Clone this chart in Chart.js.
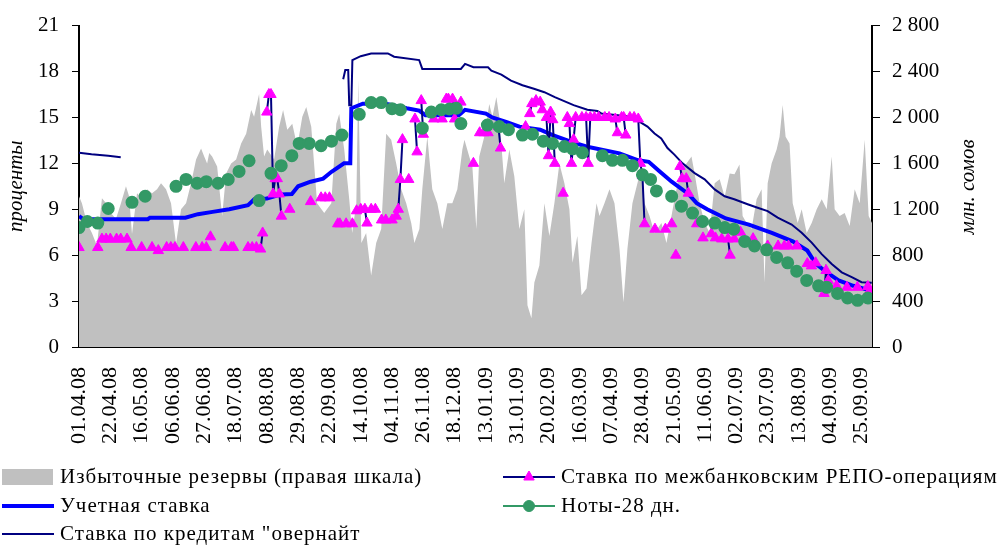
<!DOCTYPE html>
<html>
<head>
<meta charset="utf-8">
<script src="https://cdn.jsdelivr.net/npm/chart.js@4/dist/chart.umd.min.js"></script>
<style>
  html, body { margin: 0; padding: 0; background: #fff; }
  #wrap { width: 1000px; height: 547px; }
</style>
</head>
<body>
<div id="wrap"><canvas id="chart" width="1000" height="547"></canvas></div>
<script>
// x = business day number counted from 01.04.08, labels every 15 days
var tickLabels = ['01.04.08', '22.04.08', '16.05.08', '06.06.08', '27.06.08', '18.07.08', '08.08.08',
  '29.08.08', '22.09.08', '14.10.08', '04.11.08', '26.11.08', '18.12.08', '13.01.09', '31.01.09',
  '20.02.09', '16.03.09', '07.04.09', '28.04.09', '21.05.09', '11.06.09', '02.07.09', '23.07.09',
  '13.08.09', '04.09.09', '25.09.09'];

// excess reserves, mln som (right scale)
var reserves = [
  [0, 1314], [1.4, 1253], [3.8, 1080], [6.2, 994], [8.6, 882], [11, 1296], [13, 1253], [15.3, 1167],
  [17.7, 1115], [20.1, 1253], [22.5, 1400], [24, 1314], [25.4, 985], [27.8, 1340], [30.2, 1296],
  [32.6, 1374], [35, 1340], [37.4, 1374], [39.3, 1426], [41.7, 1374], [44.1, 1253], [46.5, 900],
  [48.9, 1201], [51.3, 1253], [53.7, 1426], [56.1, 1633], [58.5, 1729], [60, 1660], [61.4, 1599],
  [62.4, 1690], [63.8, 1660], [66.2, 1573], [68.6, 1141], [70.5, 1512], [72.9, 1599], [75.3, 1633],
  [77.7, 1772], [80.1, 1858], [82.5, 2065], [83.9, 2005], [86.3, 2204], [87.3, 1919], [88.7, 1660],
  [90.2, 1720], [93.5, 1633], [95.9, 1919], [97.8, 2065], [99.8, 1893], [102.2, 1945], [104.6, 1746],
  [107, 2005], [108.9, 2091], [111.3, 1919], [114.1, 1253], [117.5, 1167], [120.9, 1253],
  [123.3, 1945], [124.7, 2030], [127.1, 1720], [129.5, 1288], [130.9, 994], [132.9, 1253],
  [133.8, 2325], [135.3, 907], [137.6, 994], [140, 622], [142.4, 907], [144.8, 1028], [147.2, 1858],
  [149.6, 1806], [152, 1599], [154.4, 1374], [156.8, 1253], [159.2, 1080], [160.7, 907], [163.1, 1028],
  [164.5, 1374], [166.9, 1832], [169.3, 1374], [171.7, 1253], [174.1, 1028], [176.5, 1253],
  [178.9, 1253], [181.3, 1374], [183.7, 1720], [184.7, 1806], [187, 1660], [188.5, 1573],
  [190.4, 1028], [191.8, 1660], [194.2, 1832], [196.6, 2117], [198.1, 2005], [200, 2178],
  [201.4, 2005], [203.8, 1426], [206.2, 1720], [208.6, 1487], [211, 1028], [213.4, 1201],
  [214.9, 363], [216.8, 251], [218.2, 562], [220.6, 709], [223, 1253], [225.4, 968], [227.8, 1253],
  [230.2, 1599], [232.6, 1426], [235, 1201], [236.5, 735], [238.8, 968], [240.8, 450], [243.2, 510],
  [245.6, 907], [248, 1253], [249.4, 1141], [251.8, 1253], [254.2, 1374], [256.6, 1253], [259, 856],
  [260.9, 389], [262.8, 856], [265.2, 1253], [267.6, 1426], [269.5, 1573], [271, 1253], [273.4, 1141],
  [275.8, 994], [279.1, 1080], [281.5, 907], [283.9, 1141], [286.3, 1374], [288.7, 1547],
  [291.1, 1599], [293.5, 1660], [295, 1512], [297.4, 1253], [299.8, 1080], [302.2, 994],
  [304.6, 1426], [307, 1461], [309.4, 1310], [311.8, 1512], [314.1, 1504], [316.5, 1590], [318, 1141],
  [319.9, 1080], [322.3, 1028], [324.7, 1288], [327.1, 1374], [328.5, 562], [330, 1426], [331.9, 1599],
  [334.3, 1720], [335.7, 1832], [337.2, 2109], [338.6, 1832], [340.5, 1772], [342, 1253],
  [344.4, 1080], [346.3, 1201], [348.7, 994], [351.1, 1080], [353.5, 1201], [355.9, 1288],
  [358.3, 1201], [360.7, 1660], [362.1, 1201], [364.5, 1141], [366.9, 1167], [369.3, 1054],
  [371.7, 1374], [374.1, 1253], [376.5, 1806], [378.4, 1141], [380, 1080]
];

// discount rate, %
var discountRate = [
  [0, 8.55], [2, 8.35], [33, 8.35], [34, 8.45], [51, 8.45], [57, 8.68], [64, 8.83], [72, 9.0],
  [81, 9.27], [84, 9.65], [90, 9.7], [97, 9.97], [102, 10.0], [105, 10.5], [111, 10.8], [117, 11.0],
  [121, 11.45], [127, 12.0], [130, 12.0], [130.5, 15.6], [136, 15.9], [147, 15.9], [157, 15.6],
  [163, 15.45], [166, 15.15], [182, 15.15], [185, 15.5], [195, 15.25], [198, 15.0], [205, 14.7],
  [211, 14.4], [221, 14.2], [227, 13.85], [236, 13.4], [243, 13.1], [259, 12.65], [268, 12.2],
  [273, 12.1], [278, 11.5], [284, 10.8], [292, 10.0], [296, 9.4], [301, 9.0], [310, 8.4], [321, 8.0],
  [332, 7.45], [342, 6.9], [349, 6.3], [353, 5.45], [358, 4.9], [364, 4.35], [371, 4.0], [379, 3.7]
];

// overnight credit rate, %, no quotes between the two pieces
var overnightRate = [
  [0, 12.7], [6, 12.6], [14, 12.5], [20, 12.4], [70, null],
  [126.6, 17.5], [127.6, 18.1], [129, 18.1], [129.5, 15.8], [130.5, 15.8], [131, 18.75], [135, 19.0],
  [140, 19.18], [148, 19.18], [151, 18.97], [163, 18.75], [164.5, 18.17], [183, 18.17], [185, 18.5],
  [189, 18.28], [196, 18.28], [197.6, 18.06], [202.4, 17.8], [207, 17.4], [212.5, 17.1], [218, 16.87],
  [223, 16.65], [228, 16.33], [237, 15.8], [243.6, 15.5], [248.4, 15.42], [250.4, 15.25],
  [264.7, 15.04], [269.5, 14.65], [272.4, 14.4], [275.8, 13.95], [279, 13.63], [282, 13.0],
  [285.3, 12.57], [289.2, 12.0], [295, 11.36], [299.8, 10.95], [304.6, 10.3], [309.4, 9.85],
  [314, 9.65], [320.4, 9.33], [325.2, 9.1], [330, 8.88], [334.8, 8.45], [341.5, 8.0], [346.3, 7.47],
  [351.1, 6.82], [355.9, 6.07], [360.7, 5.42], [365.5, 4.88], [370.3, 4.56], [375, 4.23], [379.9, 4.2]
];

// interbank repo rate, %, only on days with deals
var repoRate = [
  [0, 6.5], [9, 6.5], [11, 7.05], [13, 7.05], [15, 7.05], [18, 7.05], [20, 7.05], [23, 7.05],
  [25, 6.5], [30, 6.5], [35, 6.5], [38, 6.3], [42, 6.5], [44, 6.5], [46, 6.5], [50, 6.5], [56, 6.5],
  [59, 6.5], [61, 6.5], [63, 7.2], [70, 6.5], [73, 6.5], [74, 6.5], [81, 6.5], [83, 6.5], [85, 6.5],
  [87, 6.4], [88, 7.45], [90, 15.35], [91, 16.5], [92, 16.5], [93, 10.0], [94, 11.0], [95, 11.0],
  [96, 10.0], [97, 8.55], [101, 9.0], [111, 9.5], [116, 9.75], [118, 9.75], [120, 9.75],
  [124, 8.05], [125, 8.05], [128, 8.05], [131, 8.05], [133, 8.9], [135, 9.0], [137, 9.0], [138, 8.1],
  [140, 9.0], [142, 9.0], [145, 8.3], [147, 8.3], [150, 8.3], [152, 8.55], [153, 9.0], [154, 10.95],
  [155, 13.55], [158, 10.95], [161, 14.9], [162, 12.75], [164, 16.1], [165, 13.9], [170, 14.9],
  [174, 14.9], [176, 16.2], [177, 16.2], [179, 16.2], [180, 14.9], [183, 16.0], [189, 12.0],
  [192, 14.0], [194, 14.0], [196, 14.0], [201, 14.4], [202, 13.0], [214, 14.4], [216, 15.25],
  [217, 15.9], [219, 16.1], [221, 16.0], [222, 15.5], [224, 15.0], [225, 12.5], [226, 15.35],
  [227, 14.85], [228, 12.0], [232, 10.05], [234, 15.0], [235, 14.6], [236, 12.0], [237, 13.55],
  [238, 15.0], [241, 15.0], [243, 15.0], [244, 12.0], [245, 15.0], [247, 15.0], [249, 15.0],
  [252, 15.0], [254, 15.0], [257, 14.9], [258, 14.0], [260, 15.0], [261, 15.0], [262, 13.85],
  [264, 15.0], [266, 15.0], [268, 14.9], [269, 12.0], [270, 11.2], [271, 8.05], [276, 7.7],
  [281, 7.7], [284, 8.05], [286, 6.0], [288, 11.8], [289, 11.0], [291, 11.0], [292, 10.05],
  [296, 8.05], [299, 7.13], [303, 7.4], [305, 7.13], [308, 7.06], [311, 7.06], [312, 6.0],
  [314, 7.06], [317, 7.5], [323, 7.08], [330, 6.6], [335, 6.6], [338, 6.6], [340, 6.6], [344, 6.6],
  [349, 5.45], [351, 5.3], [353, 5.5], [357, 3.5], [358, 5.0], [359, 4.35], [363, 4.0], [368, 3.9],
  [373, 3.9], [378, 3.95], [379, 3.7]
];

// 28-day notes yield, %
var notes28 = [
  [0, 7.8], [4, 8.2], [9, 8.1], [14, 9.05], [25.4, 9.45], [31.7, 9.85], [46.5, 10.5], [51.3, 10.95],
  [56.6, 10.7], [61, 10.8], [66.7, 10.7], [71.5, 10.95], [76.7, 11.47], [81.5, 12.17], [86.3, 9.57],
  [92, 11.35], [96.9, 11.85], [102, 12.5], [105.5, 13.3], [110.3, 13.3], [116, 13.15], [121, 13.45],
  [126, 13.85], [134.3, 15.2], [140, 15.97], [144.8, 15.97], [150, 15.57], [154, 15.5], [164.5, 14.3],
  [168.8, 15.35], [173.6, 15.5], [177.5, 15.55], [180.8, 15.6], [183, 14.6], [195.7, 14.5],
  [201.4, 14.4], [205.8, 14.2], [212.5, 13.85], [217.3, 13.9], [222.5, 13.45], [226.9, 13.3],
  [232.6, 13.1], [236.5, 12.95], [241.2, 12.7], [250.8, 12.5], [255.6, 12.2], [260.4, 12.2],
  [265.2, 11.85], [270, 11.25], [273.9, 10.95], [276.7, 10.2], [284, 9.85], [288.7, 9.2], [294, 8.75],
  [298.8, 8.2], [304.6, 8.1], [309.4, 7.8], [313.7, 7.7], [319, 6.9], [323.7, 6.6], [329.5, 6.35],
  [334.3, 5.85], [339.6, 5.5], [343.9, 4.95], [348.7, 4.35], [354.4, 4.0], [358.3, 3.9], [363.5, 3.5],
  [368.3, 3.2], [373.1, 3.05], [378, 3.2]
];

function toPoints(pairs) {
    return pairs.map(function (p) { return {x: p[0], y: p[1]}; });
}

// repo line joins only neighbouring days
function dailyPoints(pairs) {
    var out = [];
    pairs.forEach(function (p, i) {
        if (i > 0 && p[0] - pairs[i - 1][0] > 1) out.push({x: p[0] - 0.5, y: null});
        out.push({x: p[0], y: p[1]});
    });
    return out;
}

function spaced(v) {
    return String(v).replace(/\B(?=(\d{3})+(?!\d))/g, ' ');
}

var FONT = '"Liberation Serif", "Times New Roman", serif';
Chart.defaults.font.family = FONT;
Chart.defaults.color = '#000';

var legendRows = [477, 506, 534];
var legendSlots = [
    {dataset: 0, col: 0, row: 0, kind: 'box'},
    {dataset: 1, col: 0, row: 1, kind: 'line'},
    {dataset: 2, col: 0, row: 2, kind: 'line'},
    {dataset: 3, col: 1, row: 0, kind: 'line'},
    {dataset: 4, col: 1, row: 1, kind: 'line'}
];

var bottomLegend = {
    id: 'bottomLegend',
    afterDraw: function (chart) {
        var ctx = chart.ctx;
        var sets = chart.data.datasets;
        ctx.save();
        legendSlots.forEach(function (slot) {
            var ds = sets[slot.dataset];
            var x0 = slot.col === 0 ? 2 : 503;
            var y = legendRows[slot.row];
            if (slot.kind === 'box') {
                ctx.fillStyle = ds.backgroundColor;
                ctx.fillRect(x0, y - 8, 51, 16);
            } else {
                ctx.strokeStyle = ds.borderColor;
                ctx.lineWidth = ds.borderWidth || 2;
                ctx.beginPath();
                ctx.moveTo(x0, y);
                ctx.lineTo(x0 + 52, y);
                ctx.stroke();
                if (ds.pointStyle) {
                    ctx.fillStyle = ds.pointBackgroundColor;
                    ctx.strokeStyle = ds.pointBorderColor;
                    ctx.lineWidth = 1;
                    ctx.beginPath();
                    if (ds.pointStyle === 'triangle') {
                        var r = ds.pointRadius;
                        ctx.moveTo(x0 + 26, y - r);
                        ctx.lineTo(x0 + 26 + r * 0.87, y + r * 0.5);
                        ctx.lineTo(x0 + 26 - r * 0.87, y + r * 0.5);
                        ctx.closePath();
                    } else {
                        ctx.arc(x0 + 26, y, ds.pointRadius, 0, Math.PI * 2);
                    }
                    ctx.fill();
                    ctx.stroke();
                }
            }
            ctx.fillStyle = '#000';
            ctx.font = '21px ' + FONT;
            ctx.letterSpacing = '1px';
            ctx.textBaseline = 'middle';
            ctx.textAlign = 'left';
            ctx.fillText(ds.label, x0 + 58, y);
            ctx.letterSpacing = '0px';
        });

        // right axis title reads upwards like the left one
        ctx.translate(968, 187);
        ctx.rotate(-Math.PI / 2);
        ctx.font = 'italic 21px ' + FONT;
        ctx.textAlign = 'center';
        ctx.textBaseline = 'middle';
        ctx.fillText('млн. сомов', 0, 0);
        ctx.restore();
    }
};

var ctx = document.getElementById('chart').getContext('2d');

var ratesChart = new Chart(ctx, {
    type: 'line',
    data: {
        datasets: [{
            label: 'Избыточные резервы (правая шкала)',
            data: toPoints(reserves),
            yAxisID: 'y1',
            fill: 'origin',
            backgroundColor: '#C0C0C0',
            borderWidth: 0,
            pointRadius: 0,
            order: 5
        }, {
            label: 'Учетная ставка',
            data: toPoints(discountRate),
            yAxisID: 'y',
            borderColor: '#0000FF',
            borderWidth: 4,
            pointRadius: 0,
            order: 4
        }, {
            label: 'Ставка по кредитам "овернайт',
            data: toPoints(overnightRate),
            yAxisID: 'y',
            borderColor: '#000080',
            borderWidth: 2,
            pointRadius: 0,
            spanGaps: false,
            order: 3
        }, {
            label: 'Ставка по межбанковским РЕПО-операциям',
            data: dailyPoints(repoRate),
            yAxisID: 'y',
            borderColor: '#000080',
            borderWidth: 2,
            pointStyle: 'triangle',
            pointRadius: 6,
            pointBackgroundColor: '#FF00FF',
            pointBorderColor: '#FF00FF',
            pointBorderWidth: 1,
            spanGaps: false,
            order: 2
        }, {
            label: 'Ноты-28 дн.',
            data: toPoints(notes28),
            yAxisID: 'y',
            showLine: false,
            borderColor: '#339966',
            borderWidth: 2,
            pointStyle: 'circle',
            pointRadius: 5.5,
            pointBackgroundColor: '#339966',
            pointBorderColor: '#339966',
            order: 1
        }]
    },
    options: {
        responsive: false,
        animation: false,
        devicePixelRatio: 1,
        layout: { padding: { top: 23, left: 0, right: 0, bottom: 0 } },
        plugins: {
            legend: { display: false },
            tooltip: { enabled: false }
        },
        elements: { line: { tension: 0 } },
        scales: {
            x: {
                type: 'linear',
                position: 'bottom',
                min: 0,
                max: 380,
                afterBuildTicks: function (scale) {
                    scale.ticks = tickLabels.map(function (t, i) { return {value: i * 15}; });
                },
                afterFit: function (scale) { scale.height = 200; },
                grid: { display: false, drawTicks: false },
                border: { display: true, color: '#000', width: 2 },
                ticks: {
                    autoSkip: false,
                    maxRotation: 90,
                    minRotation: 90,
                    padding: 20,
                    font: { size: 22 },
                    callback: function (v) { return tickLabels[Math.round(v / 15)]; }
                }
            },
            y: {
                position: 'left',
                min: 0,
                max: 21,
                afterFit: function (scale) { scale.width = 79; },
                grid: { display: true, drawOnChartArea: false, drawTicks: true, tickLength: 7, color: '#000' },
                border: { display: true, color: '#000', width: 2 },
                ticks: { stepSize: 3, padding: 13, font: { size: 21 } },
                title: {
                    display: true,
                    text: 'проценты',
                    font: { size: 21, style: 'italic' },
                    padding: { top: 4, bottom: 4 }
                }
            },
            y1: {
                position: 'right',
                min: 0,
                max: 2800,
                afterFit: function (scale) { scale.width = 128; },
                grid: { display: true, drawOnChartArea: false, drawTicks: true, tickLength: 8, color: '#000' },
                border: { display: true, color: '#000', width: 2 },
                ticks: {
                    stepSize: 400,
                    padding: 12,
                    font: { size: 21 },
                    callback: function (v) { return spaced(v); }
                }
            }
        }
    },
    plugins: [bottomLegend]
});
</script>
</body>
</html>
